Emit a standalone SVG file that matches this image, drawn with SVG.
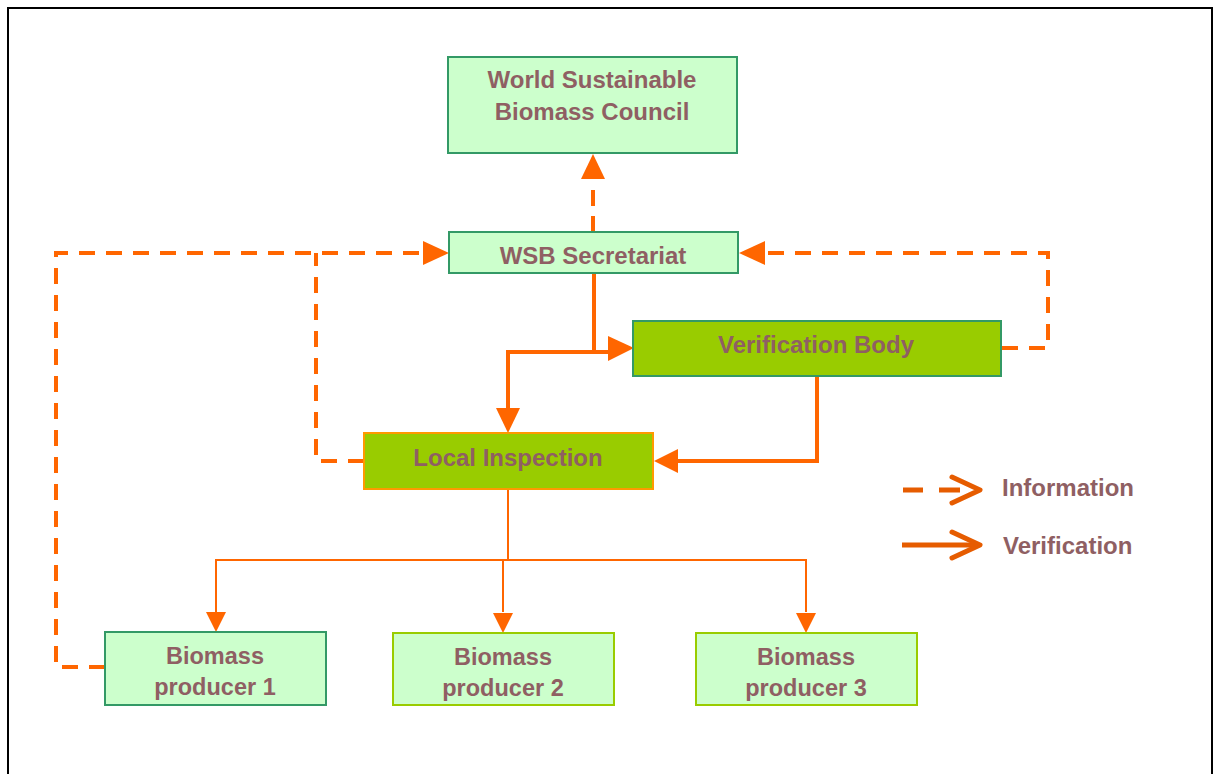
<svg xmlns="http://www.w3.org/2000/svg" width="1215" height="774" viewBox="0 0 1215 774">
<style>
.lbl{font-family:"Liberation Sans",Arial,sans-serif;font-weight:bold;font-size:24px;fill:#8f5f63;text-anchor:middle}
.prd{font-size:23.5px}
.leg{font-family:"Liberation Sans",Arial,sans-serif;font-weight:bold;font-size:24px;fill:#8f5f63}
.pale{fill:#ccffcc;stroke:#339966;stroke-width:2}
.pale2{fill:#ccffcc;stroke:#99cc00;stroke-width:2}
.lime{fill:#99cc00;stroke:#339966;stroke-width:2}
.dash{fill:none;stroke:#ff6600;stroke-width:4;stroke-dasharray:16 11}
.solid{fill:none;stroke:#ff6600;stroke-width:4}
.thin{fill:none;stroke:#ff6600;stroke-width:2}
.ah{fill:#ff6600}
</style>
<rect x="0" y="0" width="1215" height="774" fill="#ffffff"/>
<path d="M8 774 V8 H1212 V774" fill="none" stroke="#000" stroke-width="2"/>

<g id="connectors">
  <path class="dash" d="M593 232 V180" style="stroke-dasharray:16 10"/>
  <polygon class="ah" points="593,154 581,179 605,179"/>
  <path class="dash" d="M105 667 H56 V253 H424"/>
  <path class="dash" d="M364 461 H316 V253"/>
  <polygon class="ah" points="449,253 423,241 423,265"/>
  <path class="dash" d="M1002 348 H1048 V253 H764"/>
  <polygon class="ah" points="739,253 765,241 765,265"/>
  <path class="solid" d="M594 273 V352 H609"/>
  <polygon class="ah" points="634,348 608,336 608,361"/>
  <path class="solid" d="M594 352 H508 V408"/>
  <polygon class="ah" points="508,433 496,408 520,408"/>
  <path class="solid" d="M817 376 V461 H678"/>
  <polygon class="ah" points="654,461 678,449 678,473"/>
  <path class="thin" d="M508 489 V560"/>
  <path class="thin" d="M216 612 V560 H806 V612"/>
  <path class="thin" d="M503 560 V612"/>
  <polygon class="ah" points="216,632 206,612 226,612"/>
  <polygon class="ah" points="503,633 493,613 513,613"/>
  <polygon class="ah" points="806,633 796,613 816,613"/>
</g>

<g id="wsbc">
  <rect class="pale" x="448" y="57" width="289" height="96"/>
  <text class="lbl" x="592" y="88">World Sustainable</text>
  <text class="lbl" x="592" y="120">Biomass Council</text>
</g>
<g id="secretariat">
  <rect class="pale" x="449" y="232" width="289" height="41"/>
  <text class="lbl" x="593" y="264">WSB Secretariat</text>
</g>
<g id="verification-body">
  <rect class="lime" x="633" y="321" width="368" height="55"/>
  <text class="lbl" x="816" y="353">Verification Body</text>
</g>
<g id="local-inspection">
  <rect x="364" y="433" width="289" height="56" fill="#99cc00" stroke="#ff9900" stroke-width="2"/>
  <text class="lbl" x="508" y="466">Local Inspection</text>
</g>
<g id="producer1">
  <rect class="pale" x="105" y="632" width="221" height="73"/>
  <text class="lbl prd" x="215" y="664">Biomass</text>
  <text class="lbl prd" x="215" y="695">producer 1</text>
</g>
<g id="producer2">
  <rect class="pale2" x="393" y="633" width="221" height="72"/>
  <text class="lbl prd" x="503" y="665">Biomass</text>
  <text class="lbl prd" x="503" y="696">producer 2</text>
</g>
<g id="producer3">
  <rect class="pale2" x="696" y="633" width="221" height="72"/>
  <text class="lbl prd" x="806" y="665">Biomass</text>
  <text class="lbl prd" x="806" y="696">producer 3</text>
</g>

<g id="legend">
  <path d="M903 490 H923 M939 490 H960" stroke="#e65c00" stroke-width="5" fill="none"/>
  <path d="M952 477 L980 490 L952 503" stroke="#e65c00" stroke-width="5" fill="none" stroke-linecap="round" stroke-linejoin="round"/>
  <text class="leg" x="1002" y="496">Information</text>
  <path d="M902 545 H978" stroke="#e65c00" stroke-width="5" fill="none"/>
  <path d="M952 532 L980 545 L952 558" stroke="#e65c00" stroke-width="5" fill="none" stroke-linecap="round" stroke-linejoin="round"/>
  <text class="leg" x="1003" y="554">Verification</text>
</g>
</svg>
